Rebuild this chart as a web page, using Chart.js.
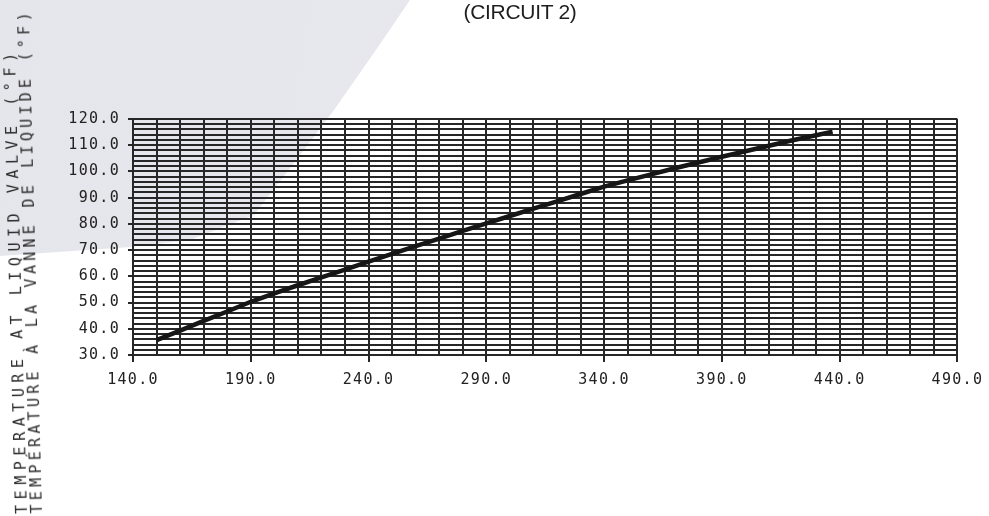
<!DOCTYPE html>
<html>
<head>
<meta charset="utf-8">
<script src="https://cdn.jsdelivr.net/npm/chart.js@4.4.1/dist/chart.umd.min.js"></script>
<style>
  html, body { margin: 0; padding: 0; background: #ffffff; }
  #wrap { position: relative; width: 989px; height: 516px; overflow: hidden; background: #ffffff; }
  #bgShape {
    position: absolute; left: 0; top: 0; width: 989px; height: 516px;
    background: linear-gradient(100deg, #e5e5ec 0%, #e8e8ee 60%, #eeeef2 100%);
    clip-path: polygon(0px 0px, 410px 0px, 378px 47px, 334px 110px, 304px 150px, 254px 215px, 190px 240px, 130px 247px, 0px 256px);
  }
  canvas { position: absolute; left: 0; top: 0; }
  #title {
    position: absolute; left: 440px; top: 1px; width: 160px; text-align: center;
    font-family: "Liberation Sans", Arial, sans-serif; font-size: 21px; line-height: 21px;
    color: #1e1e1e; letter-spacing: -0.3px; white-space: nowrap;
  }
  #ytitle {
    position: absolute; left: 15px; top: 514px; transform-origin: 0 0; transform: rotate(-91.5deg);
    font-family: "DejaVu Sans Mono", monospace; font-size: 15px; line-height: 15px;
    color: #2a2a2a; white-space: nowrap;
  }
  #ytitle .l1 { letter-spacing: 5.55px; }
  #ytitle .l2 { letter-spacing: 4.27px; }
</style>
</head>
<body>
<div id="wrap">
  <div id="bgShape"></div>
  <canvas id="c" width="989" height="516"></canvas>
  <div id="title">(CIRCUIT 2)</div>
  <div id="ytitle"><span class="l1">TEMPERATURE AT LIQUID VALVE (°F)</span><br><span class="l2">TEMPÉRATURE À LA VANNE DE LIQUIDE (°F)</span></div>
</div>
<script>
// Data
const liquidLineTemp = [150, 160, 170, 180, 190, 200, 210, 220, 230, 240, 250, 260, 270, 280, 290, 300, 310, 320, 330, 340, 350, 360, 370, 380, 390, 400, 410, 420, 430, 437];
const liquidValveTemp = [35.7, 39.3, 43.0, 46.6, 50.3, 53.5, 56.6, 59.6, 62.6, 65.6, 68.6, 71.5, 74.4, 77.3, 80.2, 83.0, 85.8, 88.6, 91.4, 94.2, 96.6, 98.9, 101.2, 103.4, 105.6, 107.7, 109.8, 111.9, 113.8, 115.2];

// Tick labels
const xTickValues = [140, 190, 240, 290, 340, 390, 440, 490];
const yTickValues = [30, 40, 50, 60, 70, 80, 90, 100, 110, 120];

const gridColor = '#272727';

const spacingPlugin = {
  id: 'letterSpacing',
  beforeDraw(chart) { chart.ctx.letterSpacing = '1.3px'; }
};

const points = liquidLineTemp.map((x, i) => ({ x: x, y: liquidValveTemp[i] }));

new Chart(document.getElementById('c').getContext('2d'), {
  type: 'line',
  data: {
    datasets: [{
      data: points,
      borderColor: '#161616',
      borderWidth: 4.5,
      pointRadius: 0,
      tension: 0,
      fill: false
    }]
  },
  options: {
    responsive: false,
    animation: false,
    devicePixelRatio: 1,
    layout: { padding: { top: 119, right: 29, bottom: 0, left: 0 } },
    plugins: {
      legend: { display: false },
      title: { display: false },
      tooltip: { enabled: false }
    },
    scales: {
      x: {
        type: 'linear',
        min: 140, max: 490,
        afterFit: s => { s.height = 161; },
        ticks: {
          stepSize: 10, autoSkip: false, maxRotation: 0, minRotation: 0,
          padding: 9,
          color: '#222222',
          font: { family: 'DejaVu Sans Mono', size: 15 },
          callback: v => xTickValues.includes(v) ? v.toFixed(1) : ''
        },
        grid: {
          color: gridColor, lineWidth: 2, tickLength: 7,
          tickColor: c => (c.tick && xTickValues.includes(c.tick.value)) ? gridColor : 'rgba(0,0,0,0)'
        },
        border: { color: gridColor, width: 2 }
      },
      y: {
        type: 'linear',
        min: 30, max: 120,
        afterFit: s => { s.width = 133; },
        ticks: {
          stepSize: 2, autoSkip: false,
          padding: 8,
          color: '#222222',
          font: { family: 'DejaVu Sans Mono', size: 15 },
          callback: v => yTickValues.includes(v) ? v.toFixed(1) : ''
        },
        grid: {
          color: gridColor, lineWidth: 2, tickLength: 5,
          tickColor: c => (c.tick && yTickValues.includes(c.tick.value)) ? gridColor : 'rgba(0,0,0,0)'
        },
        border: { color: gridColor, width: 2 }
      }
    }
  },
  plugins: [spacingPlugin]
});
</script>
</body>
</html>
